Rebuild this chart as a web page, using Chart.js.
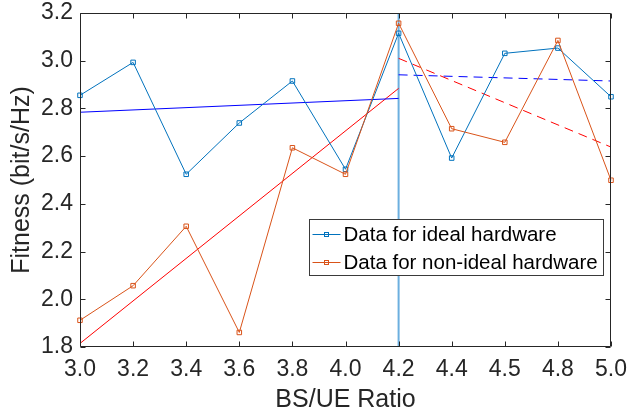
<!DOCTYPE html>
<html><head><meta charset="utf-8">
<script src="https://cdn.jsdelivr.net/npm/chart.js@4.4.0/dist/chart.umd.min.js"></script>
<style>html,body{margin:0;padding:0;background:#fff}#wrap{width:638px;height:414px;position:relative}</style>
</head><body><div id="wrap"><canvas id="c"></canvas></div>
<script>
// ---- data ----
const ratioLabels = ['3.0','3.2','3.4','3.6','3.8','4.0','4.2','4.4','4.5','4.8','5.0'];
const idealFitness = [2.855, 2.993, 2.524, 2.739, 2.915, 2.545, 3.115, 2.592, 3.031, 3.053, 2.849];
const nonIdealFitness = [1.912, 2.057, 2.306, 1.861, 2.635, 2.524, 3.157, 2.715, 2.658, 3.085, 2.499];
const splitIndex = 6;                       // BS/UE ratio 4.2
const beforeRange = [0, 6];                 // category index range of first fit
const afterRange = [6, 10];                 // category index range of second fit
const idealFitBefore = [2.784, 2.842];
const nonIdealFitBefore = [1.815, 2.884];
const idealFitAfter = [2.941, 2.915];
const nonIdealFitAfter = [3.010, 2.638];
const yMin = 1.8, yMax = 3.2, yStep = 0.2;
const seriesNames = ['Data for ideal hardware', 'Data for non-ideal hardware'];

const AX = '#262626';
const BLUE = '#0072BD', ORANGE = '#D95319';
const FONT = "'Liberation Sans', Arial, Helvetica, sans-serif";

const toPts = (arr) => arr.map((v, i) => ({x: i, y: v}));
const segPts = (range, vals) => range.map((x, i) => ({x: x, y: vals[i]}));

const boxPlugin = {
  id: 'matlabBox',
  afterDatasetsDraw(chart) {
    const {ctx, chartArea: a, scales: {x, y}} = chart;
    ctx.save();
    ctx.strokeStyle = AX; ctx.lineWidth = 1;
    const L = Math.round(a.left) + 0.5, R = Math.round(a.right) - 0.5;
    const T = Math.round(a.top) + 0.5, B = Math.round(a.bottom) - 0.5;
    ctx.beginPath();
    ctx.rect(L, T, R - L, B - T);
    const tl = 5;
    x.ticks.forEach(t => {
      const px = Math.round(x.getPixelForValue(t.value)) + 0.5;
      ctx.moveTo(px, B); ctx.lineTo(px, B - tl);
      ctx.moveTo(px, T); ctx.lineTo(px, T + tl);
    });
    y.ticks.forEach(t => {
      const py = Math.round(y.getPixelForValue(t.value)) + 0.5;
      ctx.moveTo(L, py); ctx.lineTo(L + tl, py);
      ctx.moveTo(R, py); ctx.lineTo(R - tl, py);
    });
    ctx.stroke();
    ctx.restore();
  },
  afterDraw(chart) {
    const {ctx, chartArea: a} = chart;
    const left = Math.round(a.right) - 302 + 0.5;
    const top = Math.round(a.top) + 206 + 0.5;
    const w = 294, h = 56;
    ctx.save();
    ctx.fillStyle = '#fff';
    ctx.fillRect(left, top, w, h);
    ctx.strokeStyle = '#3a3a3a'; ctx.lineWidth = 1;
    ctx.strokeRect(left, top, w, h);
    const colors = [BLUE, ORANGE];
    ctx.font = "20.5px " + FONT;
    ctx.textBaseline = 'middle';
    seriesNames.forEach((name, i) => {
      const cy = Math.round(top + 14 + i * 28.5) + 0.5;
      ctx.strokeStyle = colors[i]; ctx.lineWidth = 1;
      ctx.beginPath(); ctx.moveTo(left + 3, cy); ctx.lineTo(left + 31, cy); ctx.stroke();
      ctx.strokeRect(left + 15, cy - 2, 4, 4);
      ctx.fillStyle = '#000';
      ctx.fillText(name, left + 34, cy + 1);
    });
    ctx.restore();
  }
};

const lineDs = (label, data, color, extra) => Object.assign({
  label, data, borderColor: color, backgroundColor: color, borderWidth: 1,
  pointRadius: 0, pointHoverRadius: 0, tension: 0, fill: false
}, extra || {});

new Chart(document.getElementById('c'), {
  type: 'line',
  data: {
    datasets: [
      lineDs('split', [{x: splitIndex, y: yMin}, {x: splitIndex, y: yMax}], '#6cafdf', {borderWidth: 2, order: 5}),
      lineDs('fit ideal before', segPts(beforeRange, idealFitBefore), '#0000FF', {order: 4}),
      lineDs('fit non-ideal before', segPts(beforeRange, nonIdealFitBefore), '#FF0000', {order: 4}),
      lineDs('fit ideal after', segPts(afterRange, idealFitAfter), '#0000FF', {order: 4, borderDash: [9, 6]}),
      lineDs('fit non-ideal after', segPts(afterRange, nonIdealFitAfter), '#FF0000', {order: 4, borderDash: [9, 6]}),
      lineDs(seriesNames[0], toPts(idealFitness), BLUE, {order: 2, pointRadius: 3.2, pointStyle: 'rect', pointBorderWidth: 1, pointBackgroundColor: 'rgba(0,0,0,0)', clip: false}),
      lineDs(seriesNames[1], toPts(nonIdealFitness), ORANGE, {order: 1, pointRadius: 3.2, pointStyle: 'rect', pointBorderWidth: 1, pointBackgroundColor: 'rgba(0,0,0,0)', clip: false})
    ]
  },
  options: {
    responsive: true, maintainAspectRatio: false, animation: false,
    layout: {padding: {top: 13, right: 27, left: 0, bottom: 0}},
    plugins: {legend: {display: false}, tooltip: {enabled: false}},
    scales: {
      x: {
        type: 'linear', min: 0, max: ratioLabels.length - 1,
        grid: {display: false, drawTicks: false}, border: {display: false},
        afterBuildTicks(s) { s.ticks = ratioLabels.map((_, i) => ({value: i})); },
        afterFit(s) { s.height = 67; s.paddingLeft = 0; s.paddingRight = 0; },
        ticks: {color: AX, font: {family: FONT, size: 23}, padding: 9, maxRotation: 0, autoSkip: false,
          callback: (v) => ratioLabels[v]},
        title: {display: true, text: 'BS/UE Ratio', color: AX, font: {family: FONT, size: 25, lineHeight: 1.1}, padding: {top: 0, bottom: 0}}
      },
      y: {
        type: 'linear', min: yMin, max: yMax,
        grid: {display: false, drawTicks: false}, border: {display: false},
        afterBuildTicks(s) { const t = []; for (let v = yMin; v <= yMax + 1e-9; v += yStep) t.push({value: +v.toFixed(1)}); s.ticks = t; },
        afterFit(s) { s.width = 80; s.paddingTop = 0; s.paddingBottom = 0; },
        ticks: {color: AX, font: {family: FONT, size: 23}, padding: 7, callback: (v) => v.toFixed(1)},
        title: {display: true, text: 'Fitness (bit/s/Hz)', color: AX, font: {family: FONT, size: 25}, padding: {top: 7, bottom: 0}}
      }
    }
  },
  plugins: [boxPlugin]
});
</script></body></html>
